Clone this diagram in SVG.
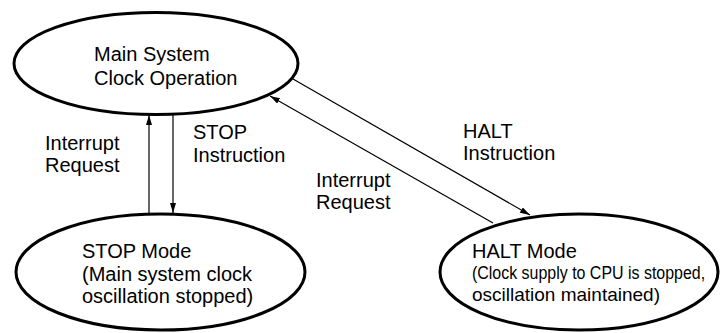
<svg xmlns="http://www.w3.org/2000/svg" width="720" height="333" viewBox="0 0 720 333">
  <defs>
    <style>
      .state { fill: #ffffff; stroke: #000000; stroke-width: 3; }
      .label { font-family: "Liberation Sans", Arial, sans-serif; font-size: 20px; fill: #000000; }
      .small { font-size: 19px; }
      .edge { stroke: #000000; stroke-width: 1.2; fill: none; marker-end: url(#arrow); }
    </style>
    <marker id="arrow" viewBox="0 0 10 6" refX="10" refY="3" markerWidth="10" markerHeight="6" markerUnits="userSpaceOnUse" orient="auto">
      <path d="M0,0 L10,3 L0,6 Z" fill="#000000"/>
    </marker>
  </defs>

  <rect width="720" height="333" fill="#ffffff"/>

  <!-- transitions -->
  <g id="connectors">
    <line class="edge" x1="149" y1="213" x2="149" y2="115"/>
    <line class="edge" x1="173" y1="115" x2="173" y2="213"/>
    <line class="edge" x1="293" y1="79" x2="530" y2="215"/>
    <line class="edge" x1="493" y1="223" x2="270" y2="96"/>
    <text class="label" x="45" y="149.5">Interrupt</text>
    <text class="label" x="45" y="172">Request</text>
    <text class="label" x="193" y="139">STOP</text>
    <text class="label" x="193" y="161.5">Instruction</text>
    <text class="label" x="316" y="186.5">Interrupt</text>
    <text class="label" x="316" y="209">Request</text>
    <text class="label" x="463" y="137.5">HALT</text>
    <text class="label" x="463" y="160">Instruction</text>
  </g>

  <!-- main system clock operation -->
  <g id="main-clock">
    <ellipse class="state" cx="156" cy="63.5" rx="142" ry="51"/>
    <text class="label" x="94" y="61">Main System</text>
    <text class="label" x="94" y="85">Clock Operation</text>
  </g>

  <!-- STOP mode -->
  <g id="stop-mode">
    <ellipse class="state" cx="160.5" cy="272" rx="144.5" ry="58"/>
    <text class="label" x="82" y="258">STOP Mode</text>
    <text class="label" x="82" y="280.5">(Main system clock</text>
    <text class="label" x="82" y="303">oscillation stopped)</text>
  </g>

  <!-- HALT mode: the long detail line is set condensed to fit the ellipse -->
  <g id="halt-mode">
    <ellipse class="state" cx="579" cy="272" rx="139" ry="58"/>
    <text class="label" x="472" y="258">HALT Mode</text>
    <g transform="translate(472,278.5) scale(0.84,1)">
      <text class="label small" x="0" y="0">(Clock supply to CPU is stopped,</text>
    </g>
    <text class="label small" x="472" y="301">oscillation maintained)</text>
  </g>
</svg>
